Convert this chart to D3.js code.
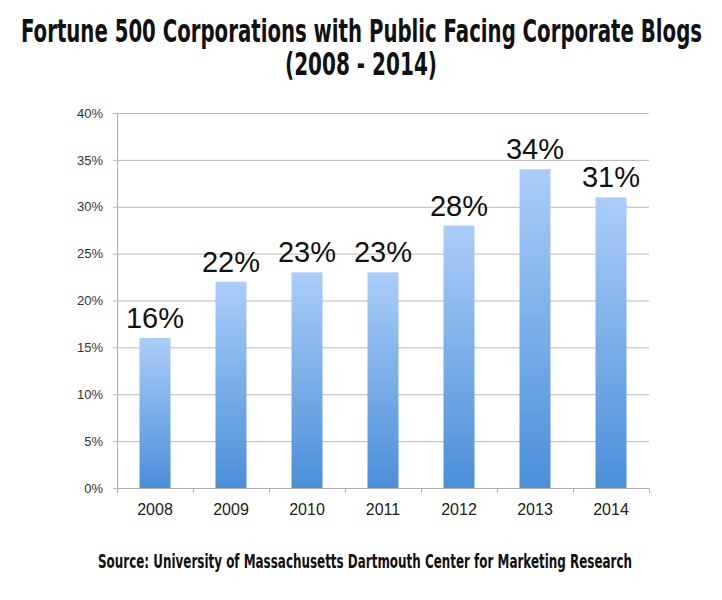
<!DOCTYPE html>
<meta charset='utf-8'>
<style>
html, body {
  margin: 0;
  padding: 0;
  background: #fff;
}
.grid line {
  stroke: #b9b9b9;
  stroke-width: 1;
}
.grid path {
  display: none;
}
.ylab text {
  font-family: 'Liberation Sans', Arial, sans-serif;
  font-size: 13px;
  fill: #333;
}
.xlab text {
  font-family: 'Liberation Sans', Arial, sans-serif;
  font-size: 16px;
  fill: #222;
}
.val {
  font-family: 'Liberation Sans', Arial, sans-serif;
  font-size: 29px;
  fill: #111;
}
.title {
  font-family: 'DejaVu Sans Condensed', 'DejaVu Sans', sans-serif;
  font-weight: bold;
  fill: #111;
}
</style>
<body>
<div id='container'></div>
<script src='https://cdn.jsdelivr.net/npm/d3@7/dist/d3.min.js'></script>
<script>

var years = ['2008', '2009', '2010', '2011', '2012', '2013', '2014'];
var shares = [16, 22, 23, 23, 28, 34, 31];
var yTicks = [0, 5, 10, 15, 20, 25, 30, 35, 40];

var W = 722, H = 600;
var pL = 117, pR = 649, pT = 113, pB = 488;

var svg = d3.select('#container').append('svg')
    .attr('width', W)
    .attr('height', H);

var defs = svg.append('defs');
var grad = defs.append('linearGradient')
    .attr('id', 'bargrad')
    .attr('x1', 0).attr('y1', 0).attr('x2', 0).attr('y2', 1);
grad.append('stop').attr('offset', '0%').attr('stop-color', '#abcdf9');
grad.append('stop').attr('offset', '100%').attr('stop-color', '#4a8fd9');

var x = d3.scaleBand().domain(years).range([pL, pR]).paddingInner(0).paddingOuter(0);
var y = d3.scaleLinear().domain([0, 40]).range([pB, pT]);

// gridlines
svg.append('g')
    .attr('class', 'grid')
    .attr('transform', 'translate(' + pR + ',0)')
    .call(d3.axisLeft(y).tickValues(yTicks).tickSize(pR - pL + 4).tickFormat(''));

// y axis line
svg.append('line')
    .attr('x1', pL + 0.5).attr('x2', pL + 0.5)
    .attr('y1', pT).attr('y2', pB)
    .attr('stroke', '#b0b0b0');

// y labels
var yl = svg.append('g')
    .attr('class', 'ylab')
    .attr('transform', 'translate(' + (pL - 4) + ',0)')
    .call(d3.axisLeft(y).tickValues(yTicks).tickSize(0).tickPadding(10).tickFormat(function(d) { return d + '%'; }));
yl.select('.domain').remove();

// bars
svg.selectAll('rect.bar')
    .data(shares)
    .enter().append('rect')
    .attr('class', 'bar')
    .attr('x', function(d, i) { return x(years[i]) + x.bandwidth() / 2 - 15.5; })
    .attr('width', 31)
    .attr('y', function(d) { return y(d); })
    .attr('height', function(d) { return pB - y(d); })
    .attr('fill', 'url(#bargrad)');

// x axis with ticks at band boundaries
var xa = svg.append('g').attr('transform', 'translate(0,' + pB + ')');
xa.append('line')
    .attr('x1', pL).attr('x2', pR)
    .attr('y1', 0.5).attr('y2', 0.5)
    .attr('stroke', '#b0b0b0');
xa.selectAll('line.tk')
    .data(years.concat(['end']))
    .enter().append('line')
    .attr('class', 'tk')
    .attr('x1', function(d, i) { return pL + i * x.bandwidth() + 0.5; })
    .attr('x2', function(d, i) { return pL + i * x.bandwidth() + 0.5; })
    .attr('y1', 0).attr('y2', 5)
    .attr('stroke', '#b0b0b0');
var xl = svg.append('g')
    .attr('class', 'xlab')
    .attr('transform', 'translate(0,' + pB + ')')
    .call(d3.axisBottom(x).tickSize(0).tickPadding(16));
xl.select('.domain').remove();

// value labels
svg.selectAll('text.val')
    .data(shares)
    .enter().append('text')
    .attr('class', 'val')
    .attr('text-anchor', 'middle')
    .attr('x', function(d, i) { return x(years[i]) + x.bandwidth() / 2; })
    .attr('y', function(d) { return y(d) - 10; })
    .text(function(d) { return d + '%'; });

// titles
svg.append('text').attr('class', 'title')
    .attr('x', 21).attr('y', 42)
    .attr('font-size', 32)
    .attr('textLength', 681).attr('lengthAdjust', 'spacingAndGlyphs')
    .text('Fortune 500 Corporations with Public Facing Corporate Blogs');
svg.append('text').attr('class', 'title')
    .attr('x', 285).attr('y', 75)
    .attr('font-size', 32)
    .attr('textLength', 152).attr('lengthAdjust', 'spacingAndGlyphs')
    .text('(2008 - 2014)');
svg.append('text').attr('class', 'title')
    .attr('x', 98).attr('y', 568)
    .attr('font-size', 20)
    .attr('textLength', 534).attr('lengthAdjust', 'spacingAndGlyphs')
    .text('Source: University of Massachusetts Dartmouth Center for Marketing Research');

</script>
